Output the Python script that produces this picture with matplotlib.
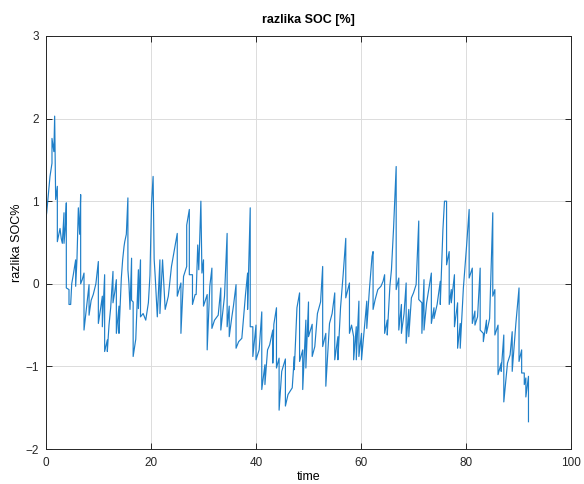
import matplotlib
matplotlib.use("Agg")
import matplotlib.pyplot as plt

plt.rcParams['font.family'] = ['Liberation Sans', 'DejaVu Sans']

time = [0.0, 0.13, 0.76, 1.14, 1.14, 1.5, 1.65, 1.84, 2.0, 2.16, 2.16, 2.67, 2.9, 3.11, 3.43, 3.43, 3.7, 3.87, 3.87,
        4.38, 4.38, 4.7, 4.9, 5.2, 5.65, 5.65, 5.9, 6.16, 6.4, 6.6, 6.6, 6.9, 7.24, 7.24, 7.7, 8.2, 8.2, 8.6, 9.0,
        9.5, 9.97, 9.97, 10.4, 10.73, 10.73, 11.17, 11.17, 11.68, 11.68, 12.0, 12.32, 12.5, 12.76, 12.76, 13.1,
        13.4, 13.4, 13.9, 13.9, 14.35, 14.6, 14.86, 15.0, 15.3, 15.6, 15.6, 15.8, 16.0, 16.3, 16.3, 16.6, 16.6,
        17.1, 17.6, 17.6, 18.0, 18.0, 18.5, 19.0, 19.5, 19.8, 20.1, 20.4, 20.6, 20.8, 21.2, 21.7, 21.7, 22.2,
        22.7, 23.3, 23.9, 24.5, 25.0, 25.0, 25.7, 25.7, 26.2, 26.8, 26.8, 27.3, 27.3, 27.9, 27.9, 28.4, 28.6,
        28.9, 29.1, 29.5, 29.7, 30.0, 30.0, 30.7, 30.7, 31.2, 31.6, 31.6, 32.1, 32.8, 33.3, 33.3, 34.0, 34.5,
        34.5, 34.9, 34.9, 35.4, 35.7, 36.2, 36.2, 36.7, 37.3, 38.0, 38.4, 38.4, 38.9, 38.9, 39.4, 39.4, 40.0,
        40.0, 40.6, 41.1, 41.1, 41.7, 41.7, 42.2, 42.6, 43.2, 43.2, 43.4, 43.9, 43.9, 44.4, 44.4, 44.9, 45.6,
        45.6, 46.1, 46.9, 47.3, 47.3, 47.8, 48.3, 48.3, 48.9, 48.9, 49.5, 49.5, 50.0, 50.0, 50.7, 50.7, 51.2,
        51.7, 52.3, 52.7, 52.7, 53.3, 53.3, 54.0, 54.5, 55.0, 55.0, 55.6, 55.6, 56.1, 56.6, 57.1, 57.1, 57.8,
        57.8, 58.2, 58.6, 58.6, 59.1, 59.1, 59.6, 59.6, 60.1, 60.1, 60.6, 61.1, 61.1, 61.6, 62.1, 62.3, 62.3,
        62.7, 63.2, 63.8, 64.2, 64.5, 64.5, 65.0, 65.0, 65.5, 65.8, 66.2, 66.7, 66.7, 67.2, 67.2, 67.7, 67.7,
        68.2, 68.6, 68.6, 69.1, 69.1, 69.6, 70.0, 70.5, 71.0, 71.0, 71.6, 71.6, 72.0, 72.0, 72.5, 72.95, 73.4,
        73.4, 73.9, 73.9, 74.5, 75.1, 75.1, 75.6, 75.9, 76.3, 76.3, 76.8, 76.8, 77.2, 77.2, 77.8, 77.8, 78.4,
        78.4, 78.9, 78.9, 79.5, 80.1, 80.6, 80.6, 81.2, 81.2, 81.7, 81.7, 82.2, 82.7, 82.7, 83.3, 83.3, 83.9,
        83.9, 84.5, 85.1, 85.1, 85.5, 85.5, 86.1, 86.1, 86.7, 86.7, 87.2, 87.2, 87.9, 88.4, 88.8, 88.8, 89.5,
        90.1, 90.1, 90.6, 90.6, 91.1, 91.1, 91.4, 91.4, 91.9, 91.9]

soc_diff = [0.80, 0.86, 1.30, 1.46, 1.76, 1.60, 2.03, 1.02, 1.10, 1.18, 0.51, 0.67, 0.55, 0.49, 0.86, 0.49, 0.70,
            0.98, -0.05, -0.07, -0.25, -0.25, 0.00, 0.11, 0.29, -0.03, 0.30, 0.92, 0.60, 1.08, 0.00, 0.05, 0.13,
            -0.56, -0.30, -0.01, -0.38, -0.20, -0.13, 0.00, 0.27, -0.48, -0.30, -0.15, -0.52, 0.11, -0.82, -0.68,
            -0.82, -0.50, -0.29, -0.10, 0.15, -0.23, -0.10, 0.05, -0.60, -0.27, -0.60, 0.07, 0.29, 0.45, 0.51,
            0.60, 1.04, 0.17, 0.00, -0.31, 0.31, -0.20, -0.22, -0.88, -0.67, 0.17, -0.30, 0.29, -0.40, -0.36,
            -0.44, -0.23, 0.10, 0.97, 1.30, 0.30, 0.09, -0.40, 0.29, -0.36, 0.29, -0.31, -0.15, 0.21, 0.43, 0.61,
            -0.15, 0.01, -0.60, 0.09, 0.21, 0.71, 0.90, 0.11, 0.11, -0.25, -0.13, -0.13, 0.47, 0.17, 1.00, 0.13,
            0.29, -0.27, -0.13, -0.80, -0.03, 0.19, -0.54, -0.44, -0.38, -0.05, -0.56, -0.15, 0.61, -0.52, -0.27,
            -0.64, -0.40, -0.27, -0.01, -0.78, -0.70, -0.66, -0.13, 0.13, -0.31, 0.92, -0.52, -0.52, -0.88,
            -0.50, -0.92, -0.80, -0.34, -1.28, -0.98, -1.22, -0.80, -0.74, -0.56, -0.96, -0.49, -0.29, -1.02,
            -0.90, -1.53, -1.06, -0.91, -1.48, -1.34, -1.26, -0.88, -1.04, -0.29, -0.11, -0.94, -0.80, -1.28,
            -0.44, -1.02, -0.22, -0.64, -0.49, -0.88, -0.76, -0.36, -0.22, 0.21, -0.76, -0.60, -1.24, -0.48,
            -0.36, -0.11, -0.92, -0.64, -0.92, -0.29, 0.11, 0.55, -0.17, 0.01, -0.60, -0.50, -0.64, -0.92, -0.52,
            -0.92, -0.21, -0.88, -0.60, -0.92, -0.56, -0.21, -0.54, -0.07, 0.33, 0.39, -0.31, -0.19, -0.07, -0.03,
            0.03, 0.11, -0.60, -0.44, -0.62, -0.03, 0.17, 0.67, 1.42, -0.07, 0.07, -0.56, -0.25, -0.60, -0.36,
            0.01, -0.72, -0.31, -0.64, -0.17, -0.11, -0.01, 0.76, -0.19, -0.23, -0.60, 0.05, -0.56, -0.23, -0.05,
            0.13, -0.48, -0.29, -0.42, -0.25, 0.03, -0.25, 0.65, 1.00, 1.00, 0.23, 0.39, -0.25, -0.07, -0.23,
            0.11, -0.52, -0.23, -0.78, -0.48, -0.78, -0.05, 0.45, 0.90, 0.07, 0.19, -0.48, -0.33, -0.50, -0.40,
            0.19, -0.56, -0.60, -0.70, -0.44, -0.60, -0.42, 0.86, -0.15, -0.07, -0.62, -0.50, -1.10, -0.96, -1.06,
            -0.62, -1.43, -0.96, -0.86, -0.58, -1.06, -0.48, -0.05, -0.94, -0.80, -1.08, -1.08, -1.22, -1.14,
            -1.37, -1.12, -1.67]

x_ticks = [0, 20, 40, 60, 80, 100]
y_ticks = [-2, -1, 0, 1, 2, 3]

fig = plt.figure(figsize=(5.84, 4.84), dpi=100)
ax = fig.add_axes([46 / 584, 1 - 449 / 484, (571 - 46) / 584, (449 - 36) / 484])
ax.plot(time, soc_diff, color='#1f7fc8', linewidth=0.85)

ax.set_xlim(0, 100)
ax.set_ylim(-2, 3)
ax.set_xticks(x_ticks)
ax.set_yticks(y_ticks)
ax.grid(True, color='#dcdcdc', linewidth=0.7)
ax.set_axisbelow(True)
ax.tick_params(direction='in', top=True, right=True, labelsize=8.5, colors='#262626', length=4, width=0.7)
ax.tick_params(axis='x', pad=6)
ax.tick_params(axis='y', pad=5)
for s in ax.spines.values():
    s.set_color('#262626')
    s.set_linewidth(0.7)

ax.set_title('razlika SOC [%]', fontsize=9, fontweight='bold', pad=9)
ax.set_xlabel('time', fontsize=9, labelpad=1.5)
ax.set_ylabel('razlika SOC%', fontsize=9, labelpad=2)

fig.savefig('out.png', dpi=100)
